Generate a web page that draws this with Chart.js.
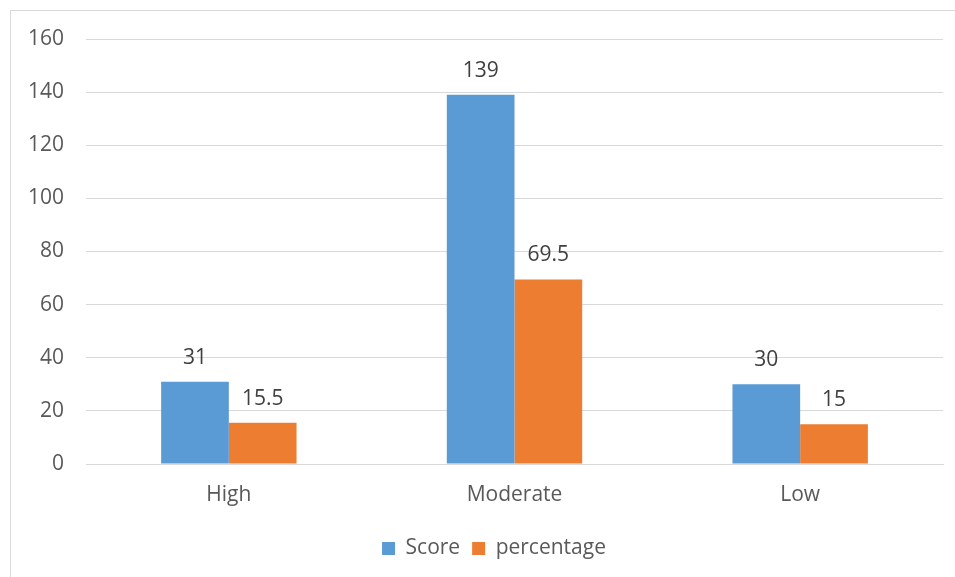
<!doctype html>
<html lang="en">
  <head>
    <meta charset="utf-8">
    <title>Score and percentage</title>
    <style>
      * {
        margin: 0;
        padding: 0;
      }
      body {
        background: #fff;
        width: 955px;
        height: 577px;
        overflow: hidden;
        position: relative;
      }
      .chartBorder {
        position: absolute;
        left: 10px;
        top: 10px;
        width: 980px;
        height: 620px;
        border: 1px solid #d9d9d9;
      }
      .chartBox {
        position: absolute;
        left: 0;
        top: 0;
        width: 945px;
        height: 560px;
      }
    </style>
  </head>
  <body>
    <div class="chartBorder">
      <div class="chartBox">
        <canvas id="myChart"></canvas>
      </div>
    </div>
    <script src="https://cdn.jsdelivr.net/npm/chart.js/dist/chart.umd.min.js"></script>
    <script>
    // data
    const categories = ['High', 'Moderate', 'Low'];
    const score = [31, 139, 30];
    const percentage = [15.5, 69.5, 15];
    const yTicks = [0, 20, 40, 60, 80, 100, 120, 140, 160];

    const FONT = '"Open Sans", "Liberation Sans", sans-serif';

    // value labels above each bar
    const valueLabels = {
      id: 'valueLabels',
      afterDatasetsDraw(chart) {
        const ctx = chart.ctx;
        ctx.save();
        ctx.font = '21px ' + FONT;
        ctx.fillStyle = '#404040';
        ctx.textAlign = 'center';
        ctx.textBaseline = 'alphabetic';
        chart.data.datasets.forEach((ds, i) => {
          chart.getDatasetMeta(i).data.forEach((bar, j) => {
            ctx.fillText(String(ds.data[j]), bar.x, bar.y - 18);
          });
        });
        ctx.restore();
      }
    };

    // legend sits a little right of the canvas centre in the original
    const legendShift = {
      id: 'legendShift',
      afterLayout(chart) {
        const lg = chart.legend;
        if (lg) {
          lg.left += 17;
          lg.right += 17;
        }
      }
    };

    const data = {
      labels: categories,
      datasets: [{
        label: 'Score',
        data: score,
        backgroundColor: '#5B9BD5',
        borderWidth: 0
      }, {
        label: 'percentage',
        data: percentage,
        backgroundColor: '#ED7D31',
        borderWidth: 0
      }]
    };

    const config = {
      type: 'bar',
      data,
      options: {
        responsive: true,
        maintainAspectRatio: false,
        animation: false,
        layout: {
          padding: { top: 28, right: 13, bottom: 2, left: 0 }
        },
        datasets: {
          bar: {
            categoryPercentage: 0.474,
            barPercentage: 1
          }
        },
        scales: {
          x: {
            grid: { display: false, drawTicks: false },
            border: { color: '#d9d9d9', width: 1 },
            ticks: {
              color: '#595959',
              font: { family: FONT, size: 21 },
              padding: 18
            },
            afterFit(scale) {
              scale.height = 62;
              scale.paddingLeft = 0;
              scale.paddingRight = 0;
            }
          },
          y: {
            min: 0,
            max: 160,
            afterBuildTicks(scale) {
              scale.ticks = yTicks.map(v => ({ value: v }));
            },
            grid: { color: '#d9d9d9', lineWidth: 1, drawTicks: false },
            border: { display: false },
            ticks: {
              color: '#595959',
              font: { family: FONT, size: 21 },
              padding: 22
            },
            afterFit(scale) {
              scale.width = 75;
              scale.paddingTop = 0;
              scale.paddingBottom = 0;
            }
          }
        },
        plugins: {
          legend: {
            position: 'bottom',
            labels: {
              color: '#595959',
              font: { family: FONT, size: 21 },
              boxWidth: 13,
              boxHeight: 13,
              padding: 12
            }
          },
          tooltip: { enabled: false }
        }
      },
      plugins: [valueLabels, legendShift]
    };

    const myChart = new Chart(document.getElementById('myChart'), config);
    </script>
  </body>
</html>
